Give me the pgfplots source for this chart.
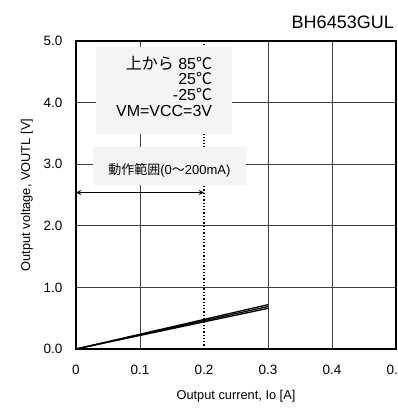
\documentclass[border=0pt]{standalone}
\usepackage{pgfplots}
\pgfplotsset{compat=1.18}
\usepackage{fontspec}
\setmainfont{Liberation Sans}
\newfontfamily\cjk{Noto Sans CJK JP}
\begin{document}
\begin{tikzpicture}[x=1pt,y=1pt]
\begin{axis}[
  at={(76pt,59pt)}, anchor=south west,
  scale only axis, width=320pt, height=308pt,
  xmin=0, xmax=0.5, ymin=0, ymax=5,
  xtick={0,0.1,0.3,0.4,0.5},
  extra x ticks={0.2},
  extra x tick style={grid style={black, line width=1.3pt, dotted}},
  ytick={0,1,...,5},
  major tick length=0pt,
  grid=major,
  grid style={black!75, line width=0.8pt},
  axis line style={black, line width=1.6pt},
  /pgf/number format/assume math mode=true,
  yticklabel style={/pgf/number format/fixed, /pgf/number format/fixed zerofill, /pgf/number format/precision=1},
  xticklabel style={/pgf/number format/fixed},
  tick label style={font=\fontsize{13.5}{15}\selectfont},
  yticklabel style={xshift=-10pt},
  xticklabel style={yshift=-13pt},
  xlabel={Output current, Io [A]},
  ylabel={Output voltage, VOUTL [V]},
  label style={font=\fontsize{12.8}{14}\selectfont},
  xlabel style={yshift=-8pt},
  ylabel style={yshift=4pt},
  clip=false,
]
\addplot[black, line width=1.3pt] coordinates {(0,0) (0.3,0.72)};
\addplot[black, line width=1.3pt] coordinates {(0,0) (0.3,0.69)};
\addplot[black, line width=1.3pt] coordinates {(0,0) (0.3,0.66)};
\fill[gray!9] (axis cs:0.032,4.91) rectangle (axis cs:0.244,3.49);
\node[anchor=base east, inner sep=0pt, font=\fontsize{16}{16}\selectfont] at (axis cs:0.213,4.536) {{\cjk 上から} 85{\cjk ℃}};
\node[anchor=base east, inner sep=0pt, font=\fontsize{16}{16}\selectfont] at (axis cs:0.213,4.287) {25{\cjk ℃}};
\node[anchor=base east, inner sep=0pt, font=\fontsize{16}{16}\selectfont] at (axis cs:0.213,4.035) {-25{\cjk ℃}};
\node[anchor=base east, inner sep=0pt, font=\fontsize{16}{16}\selectfont] at (axis cs:0.213,3.78) {VM=VCC=3V};
\fill[gray!9] (axis cs:0.027,3.28) rectangle (axis cs:0.265,2.66);
\node[font=\fontsize{13}{15}\selectfont] at (axis cs:0.146,2.90) {{\cjk 動作範囲}(0{\cjk ～}200mA)};
\draw[<->, >=stealth, line width=1.3pt] (axis cs:0,2.54) -- (axis cs:0.2,2.54);
\end{axis}
\node[anchor=base east, inner sep=0pt, font=\fontsize{18}{20}\selectfont] at (394pt,379pt) {BH6453GUL};
\pgfresetboundingbox
\path[use as bounding box] (0,0) rectangle (398pt,408pt);
\end{tikzpicture}
\end{document}
